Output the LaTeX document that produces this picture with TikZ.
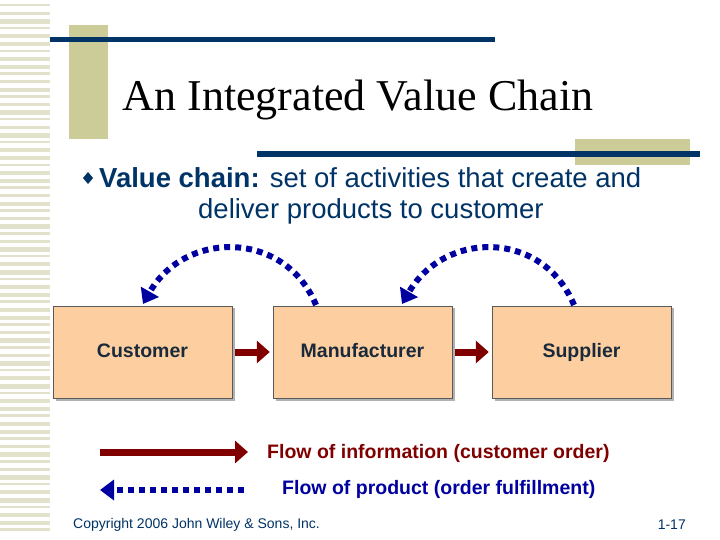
\documentclass[tikz,border=0pt]{standalone}
\usepackage{fontspec}
\setmainfont{Liberation Sans}
\newfontfamily\serifft{Liberation Serif}
\usetikzlibrary{arrows.meta}
\definecolor{tan}{HTML}{CCCC99}
\definecolor{stripe}{HTML}{E2E2CC}
\definecolor{navy}{HTML}{003366}
\definecolor{boxfill}{HTML}{FDCFA0}
\definecolor{dred}{HTML}{800000}
\definecolor{dblue}{HTML}{0000A0}
\definecolor{txt}{HTML}{1A2A3A}
\begin{document}
\begin{tikzpicture}[x=1pt,y=-1pt,
  box/.style={draw=gray!70!black,fill=boxfill,minimum width=179pt,minimum height=92pt,inner sep=0pt,font=\bfseries\fontsize{19.5}{22}\selectfont,text=txt,text height=14pt,text depth=4pt},
  info/.style={draw=dred,line width=7pt,-{Triangle[length=13pt,width=22pt]}},
  prod/.style={draw=dblue,line width=6pt,dash pattern=on 6pt off 5pt,-{Triangle[length=14pt,width=20pt]}}]
\useasboundingbox (0,0) rectangle (720,540);
\fill[white] (0,0) rectangle (720,540);
\foreach \i in {0,...,69}{\fill[stripe] (0,{4+\i*7.6}) rectangle (50,{4+\i*7.6+mod(\i,3)+2.5});}
\fill[tan] (69,25) rectangle (108,139);
\fill[navy] (50,37) rectangle (495,42);
\fill[tan] (575,139) rectangle (690,165);
\fill[navy] (257,151) rectangle (700,157);
\node[font=\serifft\fontsize{44}{48}\selectfont,text=black] (title) at (358,100) {An Integrated Value Chain};
\fill[navy] (88,172) -- (93,178) -- (88,184) -- (83,178) -- cycle;
\node[anchor=west,font=\fontsize{27.5}{32}\selectfont,text=navy,inner sep=0pt] (l1) at (99,178) {\textbf{Value chain:} set of activities that create and};
\node[anchor=west,font=\fontsize{27.5}{32}\selectfont,text=navy,inner sep=0pt] (l2) at (198,211) {deliver products to customer};
\foreach \n/\x/\t in {c/142.5/Customer,m/362.5/Manufacturer,s/581.5/Supplier}{
  \fill[gray!60] (\x-86.5,308) rectangle (\x+92.5,401);
  \node[box] (\n) at (\x,352) {\t};}
\draw[info,shorten <=3pt,shorten >=3pt] (c.east) -- (m.west);
\draw[info,shorten <=3pt,shorten >=3pt] (m.east) -- (s.west);
\coordinate (ma) at (316,305);
\coordinate (sa) at (574,305);
\draw[prod] (ma) .. controls (285,230) and (185,230) .. (143,304);
\draw[prod] (sa) .. controls (543,230) and (445,230) .. (402,304);
\coordinate (i1) at (100,452); \coordinate (i2) at (248,452);
\draw[info] (i1) -- (i2);
\coordinate (p1) at (244,490); \coordinate (p2) at (100,490);
\draw[prod] (p1) -- (p2);
\node[anchor=west,font=\bfseries\fontsize{19.5}{22}\selectfont,text=dred,inner sep=0pt] (t1) at (267,453) {Flow of information (customer order)};
\node[anchor=west,font=\bfseries\fontsize{19.5}{22}\selectfont,text=dblue,inner sep=0pt] (t2) at (282,489) {Flow of product (order fulfillment)};
\node[anchor=west,font=\fontsize{14}{16}\selectfont,text=navy,inner sep=0pt] (cp) at (73,525) {Copyright 2006 John Wiley \& Sons, Inc.};
\node[anchor=east,font=\fontsize{14}{16}\selectfont,text=navy,inner sep=0pt] (pg) at (686,525) {1-17};
\end{tikzpicture}
\end{document}
